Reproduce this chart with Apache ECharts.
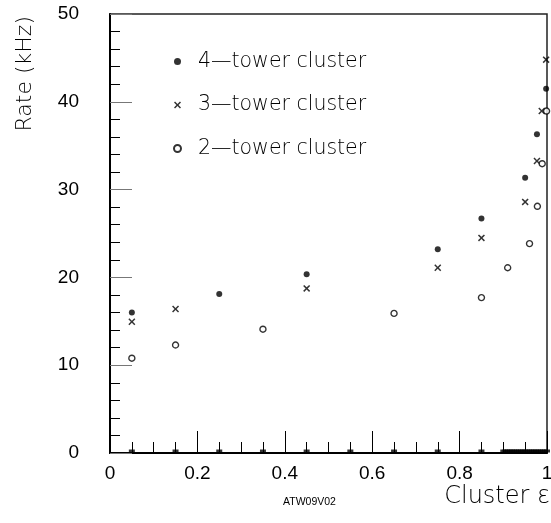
<!DOCTYPE html>
<html>
<head>
<meta charset="utf-8">
<script src="https://cdn.jsdelivr.net/npm/echarts@6/dist/echarts.min.js"></script>
<style>html,body{margin:0;padding:0;background:#fff;}#c{width:551px;height:523px;}</style>
</head>
<body>
<div id="c"></div>
<script>
const xTickLabels = ['0', '0.2', '0.4', '0.6', '0.8', '1'];
const yTickLabels = ['0', '10', '20', '30', '40', '50'];
const seriesNames = ['4\u2014tower cluster', '3\u2014tower cluster', '2\u2014tower cluster'];
const tower4 = [[0.05, 16.0], [0.25, 18.1], [0.45, 20.35], [0.75, 23.2], [0.85, 26.7], [0.95, 31.35], [0.977, 36.3], [0.998, 41.5]];
const tower3 = [[0.05, 14.95], [0.15, 16.4], [0.45, 18.75], [0.75, 21.1], [0.85, 24.5], [0.95, 28.6], [0.977, 33.25], [0.988, 38.95], [0.998, 44.8]];
const tower2 = [[0.05, 10.8], [0.15, 12.3], [0.35, 14.1], [0.65, 15.9], [0.85, 17.7], [0.91, 21.1], [0.96, 23.85], [0.978, 28.1], [0.989, 32.95], [0.999, 38.95]];
const zeroPoints = [[0.05, 0], [0.15, 0], [0.25, 0], [0.35, 0], [0.45, 0], [0.55, 0], [0.65, 0], [0.75, 0], [0.85, 0],
  [0.9, 0], [0.905, 0], [0.91, 0], [0.915, 0], [0.92, 0], [0.925, 0], [0.93, 0], [0.935, 0], [0.94, 0], [0.945, 0],
  [0.95, 0], [0.955, 0], [0.96, 0], [0.965, 0], [0.97, 0], [0.975, 0], [0.98, 0], [0.985, 0], [0.99, 0], [0.995, 0], [1.0, 0]];
const footnote = 'ATW09V02';
const xName = 'Cluster \u03b5';
const yName = 'Rate (kHz)';

const crossPath = 'path://M0,1.5L1.5,0L5,3.5L8.5,0L10,1.5L6.5,5L10,8.5L8.5,10L5,6.5L1.5,10L0,8.5L3.5,5Z';
const titleFont = 'DejaVu Sans';

const chart = echarts.init(document.getElementById('c'), null, {renderer: 'canvas'});
chart.setOption({
  animation: false,
  backgroundColor: '#fff',
  grid: {left: 110, right: 4, top: 14, bottom: 70, show: true, borderColor: '#222', borderWidth: 1.5,
    backgroundColor: 'transparent', containLabel: false, outerBoundsMode: 'none'},
  legend: {
    orient: 'vertical', left: 168, top: 46, itemGap: 22.5, itemWidth: 7, itemHeight: 7,
    data: seriesNames,
    textStyle: {fontFamily: titleFont, fontWeight: 200, fontSize: 20.5, color: '#000', lineHeight: 20, padding: [0, 0, 0, 12]}
  },
  xAxis: {
    type: 'value', min: 0, max: 1, interval: 0.2,
    name: xName, nameLocation: 'end', nameGap: 3, nameMoveOverlap: false,
    nameTextStyle: {fontFamily: titleFont, fontWeight: 200, fontSize: 24, color: '#000', align: 'right', verticalAlign: 'top', padding: [32, 0, 0, 0]},
    axisLine: {show: true, onZero: false, lineStyle: {color: '#000', width: 2}},
    axisTick: {show: true, inside: true, length: 22, lineStyle: {color: '#000', width: 1}},
    minorTick: {show: true, splitNumber: 4, length: 11, lineStyle: {color: '#000', width: 1}},
    axisLabel: {margin: 11, fontFamily: 'Liberation Sans', fontSize: 19, color: '#000',
      formatter: function (v) { const i = Math.round(v / 0.2); return xTickLabels[i]; }},
    splitLine: {show: false}
  },
  yAxis: {
    type: 'value', min: 0, max: 50, interval: 10,
    name: yName, nameLocation: 'end', nameGap: -2, nameRotate: 90, nameMoveOverlap: false,
    nameTextStyle: {fontFamily: titleFont, fontWeight: 200, fontSize: 22, color: '#000', align: 'right', verticalAlign: 'bottom', padding: [0, 0, 74, 0]},
    axisLine: {show: true, onZero: false, lineStyle: {color: '#000', width: 2}},
    axisTick: {show: true, inside: true, length: 22, lineStyle: {color: '#777', width: 1}},
    minorTick: {show: true, splitNumber: 5, length: 10, lineStyle: {color: '#000', width: 1}},
    axisLabel: {margin: 31, fontFamily: 'Liberation Sans', fontSize: 19, color: '#000',
      formatter: function (v) { const i = Math.round(v / 10); return yTickLabels[i]; }},
    splitLine: {show: false}
  },
  graphic: [{
    type: 'text', left: 283, top: 497,
    style: {text: footnote, fontFamily: 'Liberation Sans', fontSize: 10.5, fill: '#000'}
  }],
  series: [
    {name: seriesNames[0], type: 'scatter', data: tower4, symbol: 'circle', symbolSize: 6,
      itemStyle: {color: '#000'}, clip: false},
    {name: seriesNames[1], type: 'scatter', data: tower3, symbol: crossPath, symbolSize: 7,
      itemStyle: {color: '#000'}, clip: false},
    {name: seriesNames[2], type: 'scatter', data: tower2, symbol: 'circle', symbolSize: 6,
      itemStyle: {color: '#fff', borderColor: '#000', borderWidth: 1.4}, clip: false},
    {name: 'zero', type: 'scatter', data: zeroPoints, symbol: 'rect', symbolSize: [6, 3], symbolOffset: [0, -2],
      itemStyle: {color: '#000'}, clip: false, silent: true}
  ]
});
</script>
</body>
</html>
